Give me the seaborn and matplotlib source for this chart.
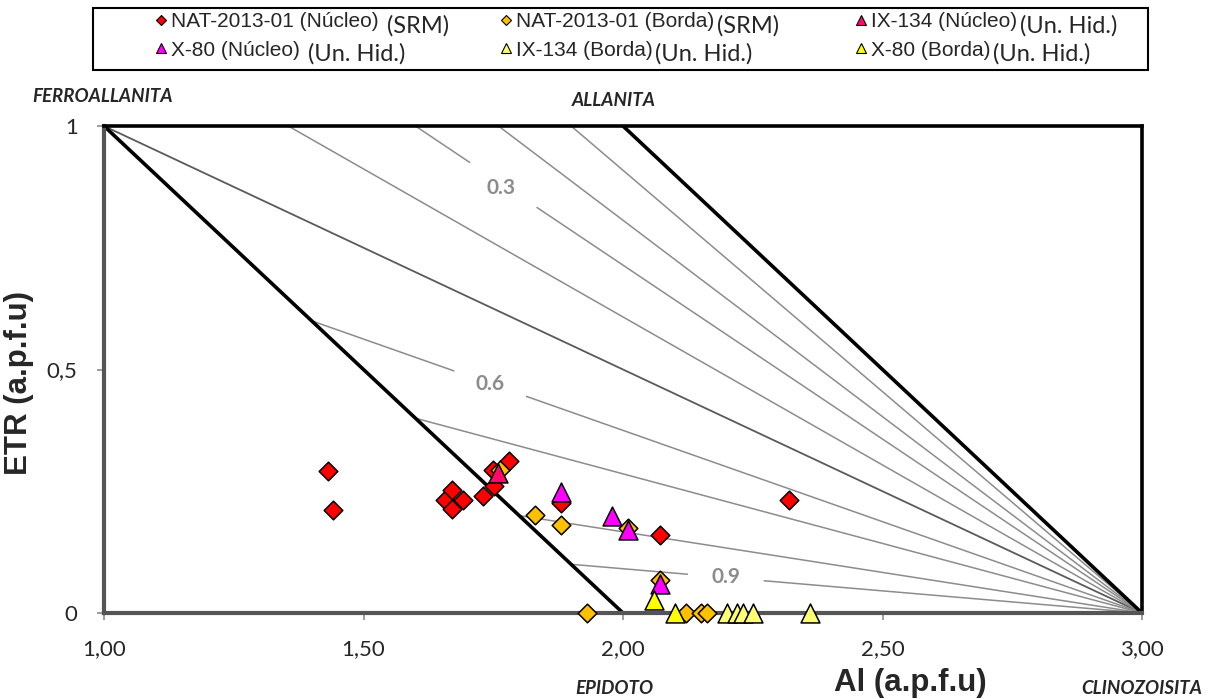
import numpy as np
import pandas as pd
import matplotlib
matplotlib.use("Agg")
import matplotlib.pyplot as plt
import seaborn as sns
from matplotlib.lines import Line2D
from matplotlib.patches import Rectangle

# ---------------- data ----------------
nat_nucleo_al  = [1.431, 1.441, 1.657, 1.670, 1.670, 1.691, 1.731, 1.751, 1.750, 1.781, 1.881, 2.071, 2.320]
nat_nucleo_etr = [0.292, 0.211, 0.232, 0.253, 0.213, 0.232, 0.240, 0.261, 0.294, 0.312, 0.225, 0.160, 0.232]

nat_borda_al  = [1.763, 1.830, 1.881, 2.010, 2.071, 1.930, 2.121, 2.151, 2.162]
nat_borda_etr = [0.294, 0.201, 0.181, 0.174, 0.068, 0.000, 0.000, 0.000, 0.000]

ix_nucleo_al  = [1.760]
ix_nucleo_etr = [0.288]

x80_nucleo_al  = [1.881, 1.979, 2.010, 2.071]
x80_nucleo_etr = [0.249, 0.199, 0.170, 0.060]

ix_borda_al  = [2.200, 2.219, 2.232, 2.251, 2.360]
ix_borda_etr = [0.000, 0.000, 0.000, 0.000, 0.000]

x80_borda_al  = [2.060, 2.100]
x80_borda_etr = [0.027, 0.000]

series_names = ["NAT-2013-01 (Núcleo)", "NAT-2013-01 (Borda)", "IX-134 (Núcleo)",
                "X-80 (Núcleo)", "IX-134 (Borda)", "X-80 (Borda)"]
series_suffix = ["(SRM)", "(SRM)", "(Un. Hid.)", "(Un. Hid.)", "(Un. Hid.)", "(Un. Hid.)"]

# reference (fan) lines converging on clinozoisite (3, 0)
edge_etr = [0.6, 0.4, 0.2, 0.1]          # start points on the Fe-allanite / epidote join (Al + ETR = 2)
top_al = [1.355, 1.6, 1.76, 1.9]         # start points on the ETR = 1 line
x_ticks = [1.0, 1.5, 2.0, 2.5, 3.0]
x_ticklabels = ["1,00", "1,50", "2,00", "2,50", "3,00"]
y_ticks = [0.0, 0.5, 1.0]
y_ticklabels = ["0", "0,5", "1"]

# ---------------- styling ----------------
sns.set_theme(style="white")
plt.rcParams["font.family"] = ["Liberation Sans", "DejaVu Sans"]

W, H = 1209, 699
fig = plt.figure(figsize=(W / 100, H / 100), dpi=100)
x0p, x1p, y0p, y1p = 104, 1142, 613, 126
ax = fig.add_axes([x0p / W, 1 - y0p / H, (x1p - x0p) / W, (y0p - y1p) / H])
ax.set_xlim(1, 3)
ax.set_ylim(0, 1)

GREY = "#8c8c8c"

def fan_line(p0, label=None, label_pos=None, gap_px=40, **kw):
    p1 = (3.0, 0.0)
    if label is None:
        ax.plot([p0[0], p1[0]], [p0[1], p1[1]], solid_capstyle="butt", **kw)
        return
    A = ax.transData.transform(p0)
    B = ax.transData.transform(p1)
    d = B - A
    u = d / np.hypot(*d)
    C = ax.transData.transform(label_pos)
    t = np.dot(C - A, u)
    inv = ax.transData.inverted()
    pa = inv.transform(A + u * (t - gap_px))
    pb = inv.transform(A + u * (t + gap_px))
    ax.plot([p0[0], pa[0]], [p0[1], pa[1]], solid_capstyle="butt", **kw)
    ax.plot([pb[0], p1[0]], [pb[1], p1[1]], solid_capstyle="butt", **kw)
    ax.text(label_pos[0], label_pos[1], label, color=GREY, fontsize=15, fontweight="bold",
            family=["Lato", "DejaVu Sans"], ha="center", va="center", zorder=3)

# darker line Fe-allanite -> clinozoisite
fan_line((1.0, 1.0), color="#5a5a5a", lw=1.3, zorder=1)
for e in edge_etr:
    p0 = (2.0 - e, e)
    if e == 0.6:
        lx = 1.744
        fan_line(p0, "0.6", (lx, e * (3 - lx) / (3 - p0[0])), gap_px=38, color=GREY, lw=1.1, zorder=1)
    elif e == 0.1:
        lx = 2.198
        fan_line(p0, "0.9", (lx, e * (3 - lx) / (3 - p0[0])), gap_px=38, color=GREY, lw=1.1, zorder=1)
    else:
        fan_line(p0, color=GREY, lw=1.1, zorder=1)
for a in top_al:
    p0 = (a, 1.0)
    if a == 1.6:
        fan_line(p0, "0.3", (1.765, 0.872), gap_px=40, color=GREY, lw=1.1, zorder=1)
    else:
        fan_line(p0, color=GREY, lw=1.1, zorder=1)

# thick black joins
ax.plot([1, 2], [1, 0], color="black", lw=2.6, zorder=2, solid_capstyle="butt")
ax.plot([2, 3], [1, 0], color="black", lw=2.6, zorder=2, solid_capstyle="butt")

# ---------------- scatter series ----------------
frames = [
    (nat_nucleo_al, nat_nucleo_etr, "#ff0000", "D", 90),
    (nat_borda_al, nat_borda_etr, "#ffc000", "D", 90),
    (ix_nucleo_al, ix_nucleo_etr, "#ff0a6c", "^", 185),
    (x80_nucleo_al, x80_nucleo_etr, "#ff00ff", "^", 185),
    (ix_borda_al, ix_borda_etr, "#ffff73", "^", 185),
    (x80_borda_al, x80_borda_etr, "#ffff00", "^", 185),
]
for (xs, ys, col, mk, s), name in zip(frames, series_names):
    df = pd.DataFrame({"Al": xs, "ETR": ys})
    sns.scatterplot(data=df, x="Al", y="ETR", ax=ax, color=col, marker=mk, s=s,
                    edgecolor="black", linewidth=1.1, zorder=5, clip_on=False, legend=False)

# ---------------- axes ----------------
for side in ["top", "right"]:
    ax.spines[side].set_color("black")
    ax.spines[side].set_linewidth(2.6)
for side in ["left", "bottom"]:
    ax.spines[side].set_color("#555555")
    ax.spines[side].set_linewidth(3.0)
ax.axhline(0, color="#c8c8c8", lw=0.8, zorder=2.5)
ax.axvline(1, color="#c8c8c8", lw=0.8, zorder=2.5)

ax.set_xticks(x_ticks)
ax.set_xticklabels(x_ticklabels)
ax.set_yticks(y_ticks)
ax.set_yticklabels(y_ticklabels)
ax.tick_params(axis="both", which="both", direction="out", length=5, width=1.2,
               color="#8c8c8c", labelsize=16, bottom=True, left=True)
ax.tick_params(axis="x", pad=14)
ax.tick_params(axis="y", pad=14)
for lbl in ax.get_xticklabels() + ax.get_yticklabels():
    lbl.set_family(["Lato", "DejaVu Sans"])
ax.set_xlabel("")
ax.set_ylabel("")
ax.grid(False)

# axis titles
fig.text(910 / W, 1 - 683 / H, "Al (a.p.f.u)", fontsize=22.5, fontweight="bold",
         ha="center", va="center")
fig.text(19 / W, 1 - 383 / H, "ETR (a.p.f.u)", fontsize=22.5, fontweight="bold",
         ha="center", va="center", rotation=90)

# end-member labels
corner_kw = dict(fontsize=13.5, fontweight="bold", style="italic", family=["Lato", "DejaVu Sans"],
                 ha="center", va="center")
fig.text(103 / W, 1 - 97 / H, "FERROALLANITA", **corner_kw)
fig.text(614 / W, 1 - 100 / H, "ALLANITA", **corner_kw)
fig.text(614 / W, 1 - 688 / H, "EPIDOTO", **corner_kw)
fig.text(1142 / W, 1 - 688 / H, "CLINOZOISITA", **corner_kw)

# ---------------- legend (three columns, two rows) ----------------
handles = []
for (xs, ys, col, mk, s), name in zip(frames, series_names):
    ms = 5.5 if mk == "D" else 7.5
    handles.append(Line2D([], [], linestyle="none", marker=mk, markersize=ms,
                          markerfacecolor=col, markeredgecolor="black", markeredgewidth=0.8,
                          label=name))
columns = [(0, 3), (1, 4), (2, 5)]
col_x = [155, 500, 855]
legends = []
for (i, j), cx in zip(columns, col_x):
    lg = fig.legend([handles[i], handles[j]], [series_names[i], series_names[j]],
                    loc="center left", bbox_to_anchor=(cx / W, 1 - 36 / H),
                    bbox_transform=fig.transFigure, frameon=False, fontsize=15,
                    handlelength=0.55, handletextpad=0.2, borderpad=0, borderaxespad=0,
                    labelspacing=0.45)
    legends.append((lg, (i, j)))
fig.add_artist(Rectangle((93 / W, 1 - 70 / H), (1148 - 93) / W, 62 / H, transform=fig.transFigure,
                         fill=False, edgecolor="black", lw=1.5))

fig.canvas.draw()
renderer = fig.canvas.get_renderer()
for col_idx, (lg, idxs) in enumerate(legends):
    for txt, k in zip(lg.get_texts(), idxs):
        bb = txt.get_window_extent(renderer)
        gap = 9 if col_idx == 0 else 3
        fig.text((bb.x1 + gap) / W, (bb.y0 + bb.y1) / 2 / H - 4 / H, series_suffix[k],
                 fontsize=17, family=["Lato", "DejaVu Sans"], ha="left", va="center")

fig.savefig("out.png", dpi=100, facecolor="white")
